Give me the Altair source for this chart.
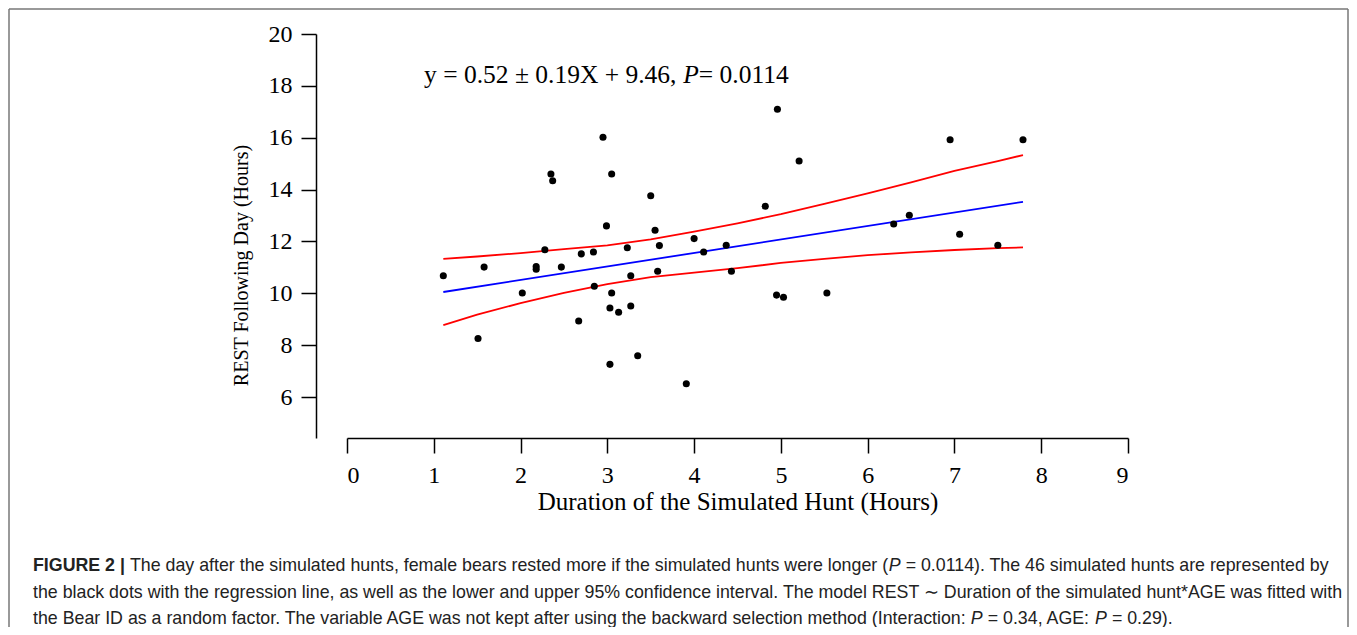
import altair as alt
import pandas as pd

# ---------------- data ----------------
hunt_hours = [1.11, 1.58, 1.51, 2.02, 2.18, 2.18, 2.28, 2.35, 2.37, 2.47,
              2.67, 2.70, 2.84, 2.85, 2.95, 2.99, 3.05, 3.03, 3.03, 3.05,
              3.13, 3.23, 3.27, 3.27, 3.35, 3.50, 3.55, 3.60, 3.58, 3.91,
              4.00, 4.11, 4.37, 4.43, 4.82, 4.96, 4.95, 5.03, 5.21, 5.53,
              6.30, 6.48, 6.95, 7.06, 7.50, 7.79]
rest_hours = [10.68, 11.01, 8.26, 10.01, 11.03, 10.93, 11.68, 14.60, 14.34, 11.01,
              8.93, 11.52, 11.59, 10.27, 16.02, 12.60, 14.60, 9.43, 7.26, 10.01,
              9.27, 11.76, 10.68, 9.51, 7.59, 13.76, 12.43, 11.84, 10.85, 6.51,
              12.11, 11.59, 11.85, 10.85, 13.36, 17.10, 9.93, 9.85, 15.10, 10.01,
              12.67, 13.01, 15.92, 12.28, 11.85, 15.92]

fit_x = [1.11, 7.79]
fit_y = [10.05, 13.53]

ci_x = [1.11, 1.5, 2.0, 2.5, 3.0, 3.5, 4.0, 4.5, 5.0, 5.5, 6.0, 6.5, 7.0, 7.5, 7.79]
ci_upper = [11.33, 11.42, 11.55, 11.70, 11.85, 12.08, 12.38, 12.70, 13.05, 13.45,
            13.85, 14.28, 14.72, 15.10, 15.33]
ci_lower = [8.77, 9.18, 9.62, 10.02, 10.35, 10.62, 10.80, 10.97, 11.17, 11.33,
            11.47, 11.58, 11.67, 11.74, 11.77]

x_ticks = [0, 1, 2, 3, 4, 5, 6, 7, 8, 9]
y_ticks = [6, 8, 10, 12, 14, 16, 18, 20]

x_title = "Duration of the Simulated Hunt (Hours)"
y_title = "REST Following Day (Hours)"

eq_main = ["y = 0.52 ± 0.19X + 9.46,"]
eq_p = ["P"]
eq_tail = ["= 0.0114"]

cap_bold = ["FIGURE 2 |"]
cap_l1a = ["The day after the simulated hunts, female bears rested more if the simulated hunts were longer ("]
cap_l1b = ["= 0.0114). The 46 simulated hunts are represented by"]
cap_l2 = ["the black dots with the regression line, as well as the lower and upper 95% confidence interval. The model REST \u223c Duration of the simulated hunt*AGE was fitted with"]
cap_l3a = ["the Bear ID as a random factor. The variable AGE was not kept after using the backward selection method (Interaction:"]
cap_l3b = ["= 0.34, AGE:"]
cap_l3c = ["= 0.29)."]
cap_p = ["P"]

SERIF = "Liberation Serif"
SANS = "Liberation Sans"

pts = pd.DataFrame({"x": hunt_hours, "y": rest_hours})
fit = pd.DataFrame({"x": fit_x, "y": fit_y})
n = len(ci_x)
ci = pd.DataFrame({"x": ci_x + ci_x, "y": ci_upper + ci_lower,
                   "band": ["upper"] * n + ["lower"] * n})

xs = alt.Scale(domain=[0, 9], nice=False, zero=False)
ys = alt.Scale(domain=[4.42, 20], nice=False, zero=False)

x_axis = alt.Axis(values=x_ticks, format="d", title=x_title, grid=False,
                  domainColor="black", tickColor="black", domainWidth=1.5, tickWidth=1.5,
                  tickSize=15, labelFont=SERIF, labelFontSize=24, labelColor="black",
                  labelPadding=10, titleFont=SERIF, titleFontSize=25, titleFontWeight="normal",
                  titleColor="black", titleBaseline="alphabetic", titleY=71)
y_axis = alt.Axis(values=y_ticks, format="d", title=y_title, grid=False, offset=31,
                  domainColor="black", tickColor="black", domainWidth=1.5, tickWidth=1.5,
                  tickSize=15, labelFont=SERIF, labelFontSize=24, labelColor="black",
                  labelPadding=9, titleFont=SERIF, titleFontSize=20, titleFontWeight="normal",
                  titleColor="black", titleAngle=270, titleBaseline="middle",
                  titleAlign="center", titleX=-75, titleY=231)

X = alt.X("x:Q", scale=xs, axis=x_axis)
Y = alt.Y("y:Q", scale=ys, axis=y_axis)

points = alt.Chart(pts).mark_circle(size=50, color="black", opacity=1).encode(x=X, y=Y)
fit_line = alt.Chart(fit).mark_line(color="#0000ff", strokeWidth=1.8).encode(x=X, y=Y)
ci_lines = alt.Chart(ci).mark_line(color="#ff0000", strokeWidth=1.8).encode(
    x=X, y=Y, detail="band:N")


def text_layer(values, x, y, font, size, style="normal", weight="normal", color="black"):
    return alt.Chart(pd.DataFrame({"t": values})).mark_text(
        align="left", baseline="alphabetic", font=font, fontSize=size,
        fontStyle=style, fontWeight=weight, color=color
    ).encode(x=alt.value(x), y=alt.value(y), text="t:N")


EQ = 25.5
eq_layers = [
    text_layer(eq_main, 77, 49, SERIF, EQ),
    text_layer(eq_p, 77 + 10.164 * EQ, 49, SERIF, EQ, style="italic"),
    text_layer(eq_tail, 77 + 10.164 * EQ + 0.611 * EQ, 49, SERIF, EQ),
]

CAP = 17.8
cap_color = "#222222"
L0 = -314          # left edge of the caption
R1 = -217          # start of regular text on line 1
B1, B2, B3 = 537, 564, 590
pw = 0.667 * CAP   # width of "P"
sp = 0.278 * CAP   # width of a space
p1 = R1 + 42.63 * CAP
p3a = L0 + 52.858 * CAP - 3
p3b = p3a + pw + 6.310 * CAP
cap_layers = [
    text_layer(cap_bold, L0, B1, SANS, CAP, weight="bold", color=cap_color),
    text_layer(cap_l1a, R1, B1, SANS, CAP, color=cap_color),
    text_layer(cap_p, p1, B1, SANS, CAP, style="italic", color=cap_color),
    text_layer(cap_l1b, p1 + pw + sp, B1, SANS, CAP, color=cap_color),
    text_layer(cap_l2, L0, B2, SANS, CAP, color=cap_color),
    text_layer(cap_l3a, L0, B3, SANS, CAP, color=cap_color),
    text_layer(cap_p, p3a, B3, SANS, CAP, style="italic", color=cap_color),
    text_layer(cap_l3b, p3a + pw + sp, B3, SANS, CAP, color=cap_color),
    text_layer(cap_p, p3b, B3, SANS, CAP, style="italic", color=cap_color),
    text_layer(cap_l3c, p3b + pw + sp, B3, SANS, CAP, color=cap_color),
]

border_color = "#777777"
dummy = pd.DataFrame({"k": [0]})
border = [
    alt.Chart(dummy).mark_rule(color=border_color, strokeWidth=1.5).encode(
        x=alt.value(-338), x2=alt.value(-338), y=alt.value(-25), y2=alt.value(600)),
    alt.Chart(dummy).mark_rule(color=border_color, strokeWidth=1.5).encode(
        x=alt.value(-338), x2=alt.value(1001), y=alt.value(-25), y2=alt.value(-25)),
    alt.Chart(dummy).mark_rule(color=border_color, strokeWidth=1.5).encode(
        x=alt.value(1001), x2=alt.value(1001), y=alt.value(-25), y2=alt.value(600)),
]

chart = alt.layer(ci_lines, fit_line, points, *eq_layers, *cap_layers, *border).properties(
    width=781, height=404,
    autosize=alt.AutoSizeParams(type="none"),
    padding={"left": 339, "top": 26, "right": 221, "bottom": 189},
    background="white",
).configure_view(stroke=None)

chart.save("out.html", embed_options={"renderer": "svg", "actions": False})
